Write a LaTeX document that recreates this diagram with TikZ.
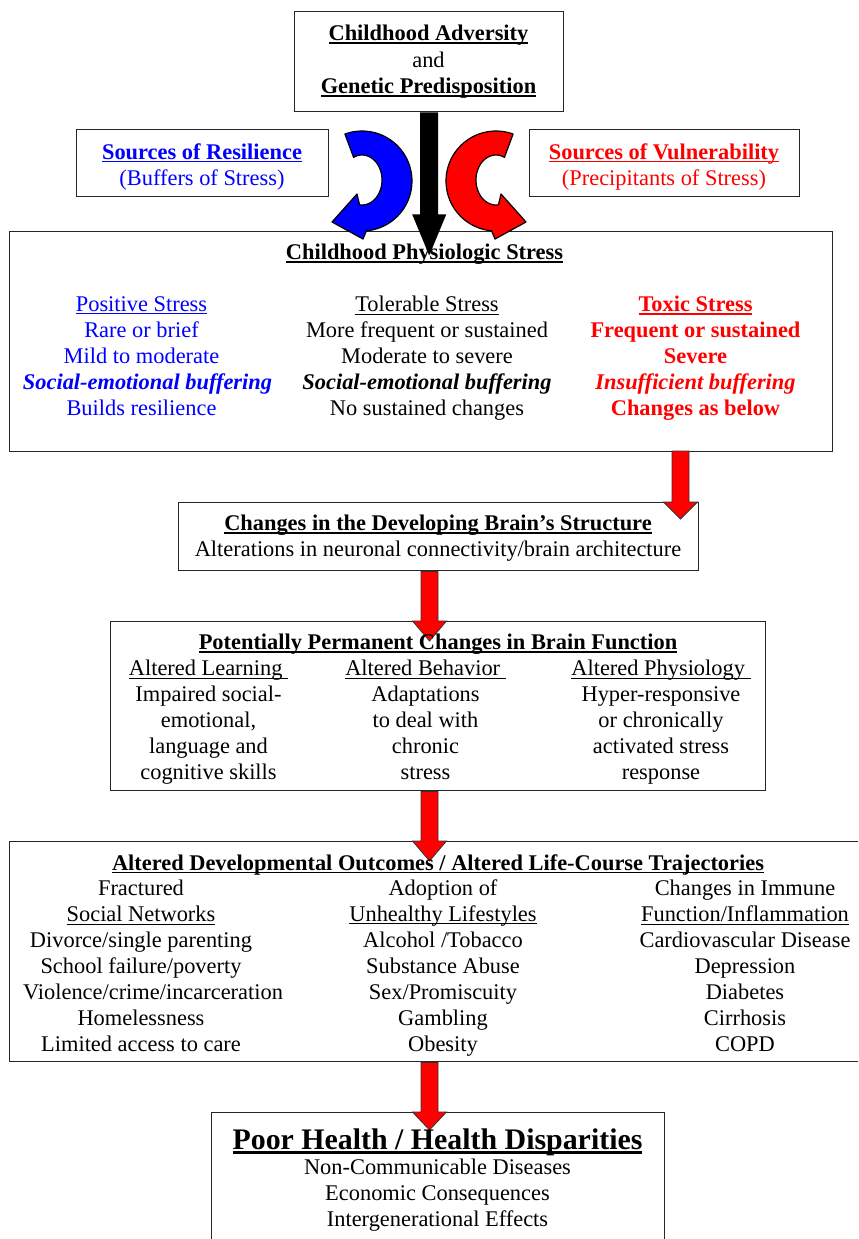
\documentclass[tikz,border=0pt]{standalone}
\usepackage{fontspec}
\setmainfont{Liberation Serif}
\usetikzlibrary{calc}
\newdimen\pxu \pxu=0.75pt
\definecolor{myblue}{RGB}{0,0,255}
\definecolor{myred}{RGB}{255,0,0}
\newsavebox\ulbox
\newcommand\myulx[3]{\sbox\ulbox{#3}\leavevmode\rlap{\rule[-#1]{\wd\ulbox}{#2}}\usebox\ulbox}
\newcommand\myul[1]{\myulx{2.2pt}{0.9pt}{#1}}
\newcommand\myulb[1]{\myulx{2.5pt}{1.4pt}{#1}}
\newcommand\myulB[1]{\myulx{3.2pt}{1.9pt}{#1}}
\newcommand\fatarr[3]{\draw[redarrow] ($(#1)+(-8.5,0)$) -- ($(#2)+(-8.5,0)$) -- ($(#2)+(-17,0)$) -- (#3) -- ($(#2)+(17,0)$) -- ($(#2)+(8.5,0)$) -- ($(#1)+(8.5,0)$) -- cycle;}
\begin{document}
\begin{tikzpicture}[x=0.75pt,y=-0.75pt,
  box/.style={draw=black!85, line width=1.1pt, anchor=north west, inner sep=0pt},
  txt/.style={align=center, inner sep=0pt, anchor=north, font=\fontsize{16.8}{19.5}\selectfont},
  txtb/.style={txt, font=\fontsize{16.8}{19.5}\selectfont\bfseries},
  redarrow/.style={fill=myred, draw=black!80, line width=0.6pt, line join=miter},
  curv/.style={draw=black, line width=0.9pt, line join=round}]
\useasboundingbox (0,0) rectangle (858,1239);
\clip (0,0) rectangle (858,1239);
\fill[white] (0,0) rectangle (858,1239);

% boxes
\node[box, minimum width=269\pxu, minimum height=100\pxu] (b1) at (294,11) {};
\node[box, minimum width=252\pxu, minimum height=67\pxu] (bres) at (76,129) {};
\node[box, minimum width=270\pxu, minimum height=67\pxu] (bvul) at (529,129) {};
\node[box, minimum width=823\pxu, minimum height=220\pxu] (b2) at (9,231) {};
\node[box, minimum width=520\pxu, minimum height=68\pxu] (b3) at (178,502) {};
\node[box, minimum width=655\pxu, minimum height=169\pxu] (b4) at (110,621) {};
\node[box, minimum width=870\pxu, minimum height=220\pxu] (b5) at (9,841) {};
\node[box, minimum width=453\pxu, minimum height=150\pxu] (b6) at (211,1112) {};

% black arrow
\coordinate (ks) at (b1.south);
\coordinate (kb) at ($(ks)+(0,102)$);
\coordinate (kt) at ($(ks)+(0,143)$);
\fill[black] ($(ks)+(-9,0)$) -- ($(kb)+(-9,0)$) -- ($(kb)+(-17,0)$) -- (kt) -- ($(kb)+(17,0)$) -- ($(kb)+(9,0)$) -- ($(ks)+(9,0)$) -- cycle;

% curved arrows
\draw[curv, fill=myblue] plot[domain=0:1,samples=50] ({362+50*cos(-110+195*\x)},{181+50*sin(-110+195*\x)})
  -- (363,239) -- (332,222) -- (357,194)
  -- plot[domain=0:1,samples=50] ({362+20*cos(97-212*\x)},{180+25*sin(97-212*\x)}) -- cycle;
\begin{scope}[shift={(858,0)}, xscale=-1]
\draw[curv, fill=myred] plot[domain=0:1,samples=50] ({362+50*cos(-110+195*\x)},{181+50*sin(-110+195*\x)})
  -- (363,239) -- (332,222) -- (357,194)
  -- plot[domain=0:1,samples=50] ({362+20*cos(97-212*\x)},{180+25*sin(97-212*\x)}) -- cycle;
\end{scope}

% red arrows
\coordinate (r1s) at (680.5,451);
\coordinate (r1b) at (r1s |- b3.north);
\coordinate (r1t) at ($(r1b)+(0,17)$);
\fatarr{r1s}{r1b}{r1t}
\coordinate (r2s) at (b3.south -| 429.5,0);
\coordinate (r2b) at (r2s |- b4.north);
\coordinate (r2t) at ($(r2b)+(0,20)$);
\fatarr{r2s}{r2b}{r2t}
\coordinate (r3s) at (b4.south -| 429.5,0);
\coordinate (r3b) at (r3s |- b5.north);
\coordinate (r3t) at ($(r3b)+(0,20)$);
\fatarr{r3s}{r3b}{r3t}
\coordinate (r4s) at (b5.south -| 429.5,0);
\coordinate (r4b) at (r4s |- b6.north);
\coordinate (r4t) at ($(r4b)+(0,18)$);
\fatarr{r4s}{r4b}{r4t}

% texts
\node[txt, font=\fontsize{16.8}{19.9}\selectfont] (t1) at (428.5,25) {\textbf{\myulb{Childhood Adversity}}\\and\\\textbf{\myulb{Genetic Predisposition}}};
\node[txt, text=myblue] (tres) at (202,143) {\textbf{\myulb{Sources of Resilience}}\\(Buffers of Stress)};
\node[txt, text=myred] (tvul) at (664,143) {\textbf{\myulb{Sources of Vulnerability}}\\(Precipitants of Stress)};

\node[txtb] (t2) at (424.5,244) {\myulb{Childhood Physiologic Stress}};
\node[txt, text=myblue] (t2l) at (141.5,296) {\myul{Positive Stress}\\Rare or brief\\Mild to moderate\\\hspace*{9pt}\textbf{\textit{Social-emotional buffering}}\\Builds resilience};
\node[txt] (t2m) at (427,296) {\myul{Tolerable Stress}\\More frequent or sustained\\Moderate to severe\\\textbf{\textit{Social-emotional buffering}}\\No sustained changes};
\node[txtb, text=myred] (t2r) at (695.5,296) {\myulb{Toxic Stress}\\Frequent or sustained\\Severe\\\textit{Insufficient buffering}\\Changes as below};

\node[txt] (t3) at (438,515) {\textbf{\myulb{Changes in the Developing Brain’s Structure}}\\Alterations in neuronal connectivity/brain architecture};

\node[txtb] (t4) at (438,634) {\myulb{Potentially Permanent Changes in Brain Function}};
\node[txt] (t4l) at (208.5,660) {\myul{Altered Learning\ }\\Impaired social-\\emotional,\\language and\\cognitive skills};
\node[txt] (t4m) at (425.5,660) {\myul{Altered Behavior\ }\\Adaptations\\to deal with\\chronic\\stress};
\node[txt] (t4r) at (661,660) {\myul{Altered Physiology\ }\\Hyper-responsive\\or chronically\\activated stress\\response};

\node[txtb] (t5) at (438,854) {\myulb{Altered Developmental Outcomes / Altered Life-Course Trajectories}};
\node[txt] (t5l) at (141,880) {Fractured\\\myul{Social Networks}\\Divorce/single parenting\\School failure/poverty\\\hspace*{18pt}Violence/crime/incarceration\\Homelessness\\Limited access to care};
\node[txt] (t5m) at (443,879) {Adoption of\\\myul{Unhealthy Lifestyles}\\Alcohol /Tobacco\\Substance Abuse\\Sex/Promiscuity\\Gambling\\Obesity};
\node[txt] (t5r) at (745,880) {Changes in Immune\\\myul{Function/Inflammation}\\Cardiovascular Disease\\Depression\\Diabetes\\Cirrhosis\\COPD};

\node[txt, font=\fontsize{22.4}{26}\selectfont\bfseries] (t6) at (437.5,1128.5) {\myulB{Poor Health / Health Disparities}};
\node[txt] (t6b) at (437.5,1159) {Non-Communicable Diseases\\Economic Consequences\\Intergenerational Effects};
\end{tikzpicture}
\end{document}
